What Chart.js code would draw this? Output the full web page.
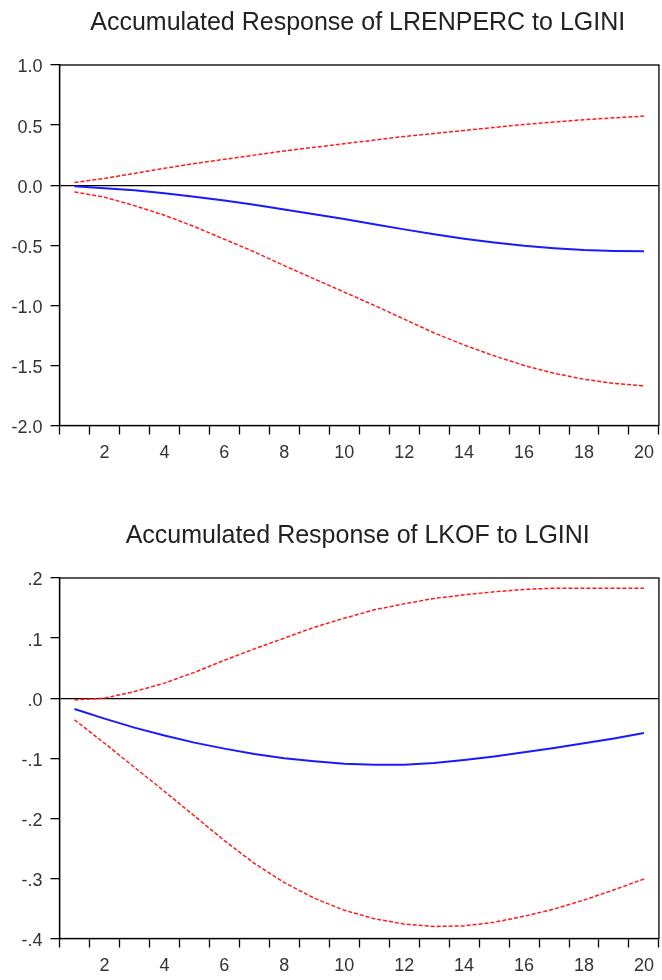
<!DOCTYPE html>
<html lang="en">
<head>
  <meta charset="UTF-8">
  <title>Accumulated Responses to LGINI</title>
  <style>
    body {
      margin: 0;
      background: #fff;
    }
    #wrap {
      position: relative;
      width: 662px;
      height: 980px;
    }
    canvas {
      position: absolute;
      left: 0;
    }
    #chartTop { top: 0; }
    #chartBottom { top: 513px; }
  </style>
  <script src="https://cdn.jsdelivr.net/npm/chart.js@4"></script>
</head>
<body>
  <div id="wrap">
    <canvas id="chartTop" width="662" height="467"></canvas>
    <canvas id="chartBottom" width="662" height="467"></canvas>
  </div>

  <script>
    // periods
    const periods = [1, 2, 3, 4, 5, 6, 7, 8, 9, 10, 11, 12, 13, 14, 15, 16, 17, 18, 19, 20];

    // LRENPERC to LGINI
    const renResp  = [-0.008, -0.025, -0.043, -0.068, -0.097, -0.128, -0.163, -0.203, -0.242, -0.282, -0.325, -0.368, -0.408, -0.445, -0.477, -0.505, -0.525, -0.54, -0.547, -0.55];
    const renUpper = [0.022, 0.056, 0.098, 0.14, 0.18, 0.215, 0.25, 0.285, 0.315, 0.345, 0.375, 0.405, 0.43, 0.455, 0.48, 0.505, 0.525, 0.545, 0.56, 0.575];
    const renLower = [-0.056, -0.1, -0.17, -0.25, -0.345, -0.45, -0.555, -0.67, -0.78, -0.89, -1.0, -1.115, -1.23, -1.33, -1.42, -1.5, -1.565, -1.615, -1.65, -1.67];

    // LKOF to LGINI
    const kofResp  = [-0.018, -0.034, -0.049, -0.062, -0.074, -0.084, -0.093, -0.1, -0.105, -0.109, -0.111, -0.111, -0.108, -0.103, -0.097, -0.09, -0.083, -0.075, -0.067, -0.058];
    const kofUpper = [-0.003, 0.0, 0.011, 0.025, 0.043, 0.063, 0.082, 0.1, 0.118, 0.133, 0.147, 0.157, 0.166, 0.172, 0.177, 0.181, 0.183, 0.183, 0.183, 0.183];
    const kofLower = [-0.036, -0.075, -0.115, -0.155, -0.196, -0.237, -0.275, -0.307, -0.333, -0.353, -0.367, -0.376, -0.38, -0.379, -0.373, -0.363, -0.351, -0.336, -0.319, -0.301];

    const FONT = '"Liberation Sans", Arial, sans-serif';

    // 标题和外框
    const framePlugin = {
      id: 'frame',
      afterDraw(chart, args, opts) {
        const a = chart.chartArea;
        const ctx = chart.ctx;
        ctx.save();
        ctx.strokeStyle = '#000';
        ctx.lineWidth = 1.3;
        ctx.strokeRect(a.left, a.top, a.right - a.left, a.bottom - a.top);
        ctx.fillStyle = '#222';
        ctx.font = '25px ' + FONT;
        ctx.textAlign = 'center';
        ctx.textBaseline = 'alphabetic';
        ctx.fillText(opts.text, (a.left + a.right) / 2 - 1.5, 29.5);
        ctx.restore();
      }
    };

    function yLabel(dropZero) {
      return function(value) {
        let s = Number(value).toFixed(1);
        if (dropZero) s = s.replace(/^(-?)0\./, '$1.');
        return s;
      };
    }

    function makeChart(id, title, resp, upper, lower, yMin, yMax, yStep, dropZero) {
      const dashed = {
        borderColor: '#ff1a1a',
        borderWidth: 1.5,
        borderDash: [4, 2],
        pointRadius: 0,
        tension: 0,
        fill: false
      };
      return new Chart(document.getElementById(id), {
        type: 'line',
        data: {
          labels: periods,
          datasets: [
            Object.assign({ data: upper }, dashed),
            Object.assign({ data: lower }, dashed),
            {
              data: resp,
              borderColor: '#1a1aff',
              borderWidth: 2,
              pointRadius: 0,
              tension: 0,
              fill: false
            }
          ]
        },
        options: {
          responsive: false,
          animation: false,
          events: [],
          layout: { padding: { top: 65, right: 1.5, bottom: 0, left: 0 } },
          plugins: {
            legend: { display: false },
            tooltip: { enabled: false },
            frame: { text: title }
          },
          scales: {
            x: {
              type: 'category',
              offset: true,
              afterFit(s) { s.height = 41.5; },
              border: { display: true, color: '#000', width: 1.3 },
              grid: {
                offset: true,
                drawOnChartArea: false,
                drawTicks: true,
                tickLength: 9,
                tickColor: '#000',
                tickWidth: 1.3
              },
              ticks: {
                autoSkip: false,
                maxRotation: 0,
                padding: 8,
                color: '#333',
                font: { family: FONT, size: 18 },
                callback(v, i) {
                  const p = periods[i];
                  return p % 2 === 0 ? String(p) : '';
                }
              }
            },
            y: {
              min: yMin,
              max: yMax,
              afterFit(s) { s.width = 59.5; },
              border: { display: true, color: '#000', width: 1.3 },
              grid: {
                drawTicks: true,
                tickLength: 9,
                tickColor: '#000',
                tickWidth: 1.3,
                lineWidth: 1.3,
                color: c => (Math.abs(c.tick.value) < 1e-9 ? '#000' : 'rgba(0,0,0,0)')
              },
              ticks: {
                stepSize: yStep,
                padding: 8,
                labelOffset: 2.5,
                color: '#333',
                font: { family: FONT, size: 18 },
                callback: yLabel(dropZero)
              }
            }
          }
        },
        plugins: [framePlugin]
      });
    }

    makeChart('chartTop', 'Accumulated Response of LRENPERC to LGINI',
      renResp, renUpper, renLower, -2.0, 1.0, 0.5, false);
    makeChart('chartBottom', 'Accumulated Response of LKOF to LGINI',
      kofResp, kofUpper, kofLower, -0.4, 0.2, 0.1, true);
  </script>
</body>
</html>
